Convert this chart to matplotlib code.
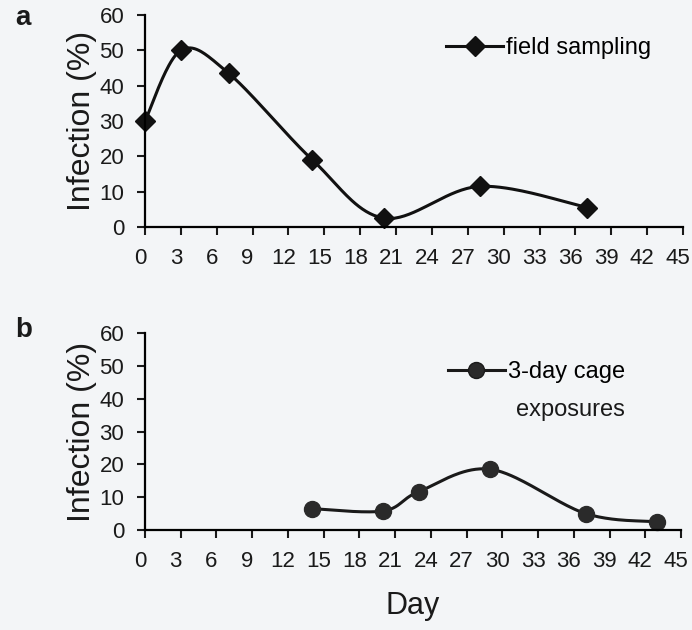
import numpy as np
import matplotlib.pyplot as plt
from matplotlib.transforms import ScaledTranslation

plt.rcParams['font.family'] = ['Liberation Sans', 'DejaVu Sans']

# Data
days_field = [0, 3, 7, 14, 20, 28, 37]
infection_field = [30, 50, 43.5, 19, 2.5, 11.5, 5.5]

days_cage = [14, 20, 23, 29, 37, 43]
infection_cage = [6.5, 5.8, 11.7, 18.5, 5, 2.5]

xticks = list(range(0, 46, 3))
yticks = list(range(0, 61, 10))


def smooth(x, y, n=40):
    # Excel-style smoothed line: cubic Bezier through the points
    x = np.asarray(x, float)
    y = np.asarray(y, float)
    px = np.concatenate([[x[0]], x, [x[-1]]])
    py = np.concatenate([[y[0]], y, [y[-1]]])
    xs, ys = [], []
    t = np.linspace(0, 1, n)
    for i in range(1, len(px) - 2):
        p0 = np.array([px[i], py[i]])
        p3 = np.array([px[i + 1], py[i + 1]])
        c1 = p0 + (p3 - np.array([px[i - 1], py[i - 1]])) / 6
        c2 = p3 - (np.array([px[i + 2], py[i + 2]]) - p0) / 6
        b = ((1 - t) ** 3)[:, None] * p0 + (3 * (1 - t) ** 2 * t)[:, None] * c1 \
            + (3 * (1 - t) * t ** 2)[:, None] * c2 + (t ** 3)[:, None] * p3
        xs.extend(b[:, 0])
        ys.extend(b[:, 1])
    return xs, ys


bg = '#f3f5f7'
ink = '#1a1a1a'
fig = plt.figure(figsize=(6.92, 6.3), dpi=100, facecolor=bg)
ax1 = fig.add_axes([145 / 692, 1 - 227 / 630, 538 / 692, 212 / 630])
ax2 = fig.add_axes([145 / 692, 1 - 530 / 630, 536 / 692, 197 / 630])

shift = ScaledTranslation(-5 / 100, 0, fig.dpi_scale_trans)
for ax in (ax1, ax2):
    ax.set_facecolor(bg)
    ax.set_xlim(0, 45)
    ax.set_ylim(0, 60)
    ax.set_xticks(xticks)
    ax.set_yticks(yticks)
    ax.spines['top'].set_visible(False)
    ax.spines['right'].set_visible(False)
    ax.spines['left'].set_linewidth(1.6)
    ax.spines['bottom'].set_linewidth(1.6)
    ax.tick_params(direction='out', length=6, width=1.5, labelsize=16,
                   colors=ink, pad=9)
    for lab in ax.get_xticklabels():
        lab.set_transform(lab.get_transform() + shift)
    ax.set_ylabel('Infection (%)', fontsize=23, color=ink, labelpad=2)

# panel a
sx, sy = smooth(days_field, infection_field)
ax1.plot(sx, sy, color='#111111', lw=2.2, clip_on=False)
ax1.plot(days_field, infection_field, ls='none', marker='D', ms=10.5,
         color='#111111', clip_on=False)
ax1.plot([], [], color='#111111', lw=2.2, marker='D', ms=10.5, label='field sampling')
ax1.legend(loc='center left', bbox_to_anchor=(0.56, 0.844), frameon=False,
           fontsize=17, handlelength=2.4, handletextpad=0.15,
           borderpad=0, borderaxespad=0)

# panel b
sx, sy = smooth(days_cage, infection_cage)
ax2.plot(sx, sy, color=ink, lw=2.2, clip_on=False)
ax2.plot(days_cage, infection_cage, ls='none', marker='o', ms=11.5,
         color='#2a2a2a', clip_on=False)
ax2.plot([], [], color=ink, lw=2.2, marker='o', ms=11.5,
         markerfacecolor='#2a2a2a', label='3-day cage')
ax2.legend(loc='center left', bbox_to_anchor=(0.565, 0.80), frameon=False,
           fontsize=17, handlelength=2.4, handletextpad=0.15,
           borderpad=0, borderaxespad=0)
ax2.text(0.692, 0.61, 'exposures', transform=ax2.transAxes, fontsize=17,
         va='center', ha='left', color=ink)
ax2.set_xlabel('Day', fontsize=22, color=ink, labelpad=14)

fig.text(15 / 692, 1 - 18 / 630, 'a', fontsize=20, fontweight='bold',
         va='center', ha='left', color=ink)
fig.text(15 / 692, 1 - 330 / 630, 'b', fontsize=20, fontweight='bold',
         va='center', ha='left', color=ink)

fig.savefig('out.png', dpi=100, facecolor=bg)
